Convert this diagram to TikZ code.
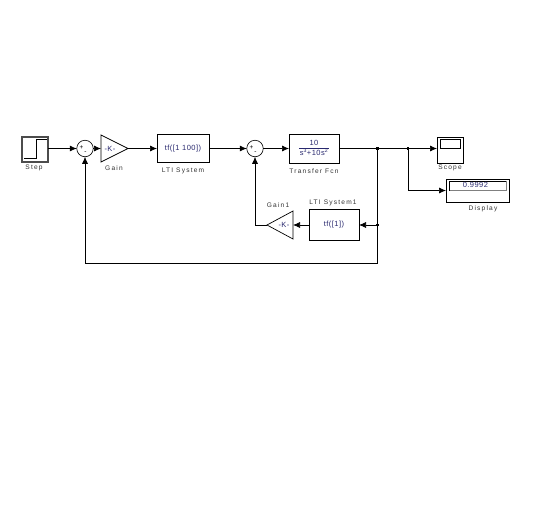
\documentclass[tikz,border=0pt]{standalone}
\usepackage{fontspec}
\setmainfont{Liberation Sans}
\newfontfamily\lblfont{Liberation Sans}[LetterSpace=18]
\newfontfamily\blkfont{Liberation Sans}[LetterSpace=6]
\usetikzlibrary{arrows.meta}
\definecolor{blocktext}{RGB}{40,40,110}
\definecolor{labeltext}{RGB}{50,50,50}
\begin{document}
\begin{tikzpicture}[x=1pt,y=-1pt,
  blockbox/.style={draw=black, line width=0.7pt, inner sep=0pt, outer sep=0pt,
    font=\blkfont\fontsize{7.5}{8.5}\selectfont, text=blocktext},
  sumc/.style={draw=black, line width=0.6pt, circle, minimum size=16.5pt, inner sep=0pt, outer sep=0pt},
  ghost/.style={inner sep=0pt, outer sep=0pt},
  lbl/.style={font=\lblfont\fontsize{6.6}{7.5}\selectfont, text=labeltext, inner sep=0pt},
  sgn/.style={font=\fontsize{6.5}{7}\selectfont, inner sep=0pt},
  wire/.style={line width=0.7pt},
  sig/.style={line width=0.7pt, -{Latex[length=7pt,width=6pt]}},
  jdot/.style={fill=black, minimum size=2.2pt, inner sep=0pt}
]
\useasboundingbox (0,0) rectangle (560,528);

% Step
\node[draw=gray!60!black, line width=1.1pt, minimum width=26pt, minimum height=25pt, inner sep=0pt, outer sep=0pt] (step) at (35,149.5) {};
\draw[line width=0.7pt] (24,158) -- (36,158) -- (36,139) -- (47,139);
\node[lbl] (steplbl) at (34,168) {Step};

% Sum 1
\node[sumc] (sum1) at (85,148.5) {};
\node[sgn] (s1p) at (81.5,147.5) {+};
\node[sgn] (s1m) at (85.5,153) {-};

% Gain
\node[ghost, minimum width=27pt, minimum height=27pt] (gain) at (114.5,148.5) {};
\draw[line width=0.7pt] (gain.north west) -- (gain.east) -- (gain.south west) -- cycle;
\node[ghost, font=\blkfont\fontsize{7.5}{8.5}\selectfont, text=blocktext] (gaink) at (110,148.5) {-K-};
\node[lbl] (gainlbl) at (114,168) {Gain};

% LTI System
\node[blockbox, minimum width=52pt, minimum height=28pt] (lti) at (183,148.5) {tf([1 100])};
\node[lbl] (ltilbl) at (183,171) {LTI System};

% Sum 2
\node[sumc] (sum2) at (255,148.5) {};
\node[sgn] (s2p) at (251.5,147.5) {+};
\node[sgn] (s2m) at (255.5,153) {-};

% Transfer Fcn
\node[blockbox, minimum width=50pt, minimum height=29pt] (tf) at (314,148.5)
  {\setlength{\tabcolsep}{1pt}\renewcommand{\arraystretch}{1.15}\begin{tabular}{c}10\\\hline s\textsuperscript{3}+10s\textsuperscript{2}\end{tabular}};
\node[lbl] (tflbl) at (314,171) {Transfer Fcn};

% Scope
\node[draw=black, line width=0.8pt, minimum width=26pt, minimum height=26pt, inner sep=0pt, outer sep=0pt] (scope) at (450,150) {};
\draw[line width=0.7pt, fill=white] (440.5,139.5) rectangle (460.5,148.5);
\node[lbl] (scopelbl) at (450,168) {Scope};

% Display
\node[draw=black, line width=0.8pt, minimum width=63pt, minimum height=23pt, inner sep=0pt, outer sep=0pt] (disp) at (477.5,190.5) {};
\draw[line width=0.5pt, gray] (449,190.5) -- (506,190.5) -- (506,181);
\draw[line width=0.8pt, black] (449,190.5) -- (449,181) -- (506,181);
\node[ghost, anchor=east, font=\blkfont\fontsize{7.5}{8.5}\selectfont, text=blocktext] (dispval) at (488,185) {0.9992};
\node[lbl] (displbl) at (483,209) {Display};

% LTI System1
\node[blockbox, minimum width=50pt, minimum height=31pt] (lti1) at (334,225) {tf([1])};
\node[lbl] (lti1lbl) at (333,203) {LTI System1};

% Gain1
\node[ghost, minimum width=26pt, minimum height=28pt] (gain1) at (280,225) {};
\draw[line width=0.7pt] (gain1.north east) -- (gain1.west) -- (gain1.south east) -- cycle;
\node[ghost, font=\blkfont\fontsize{7.5}{8.5}\selectfont, text=blocktext] (gain1k) at (284,225) {-K-};
\node[lbl] (gain1lbl) at (278,205) {Gain1};

% Junctions
\coordinate (j1) at (377.5,148.5);
\coordinate (j2) at (408,148.5);
\coordinate (j3) at (377.5,225);
\coordinate (jb) at (377.5,263);
\node[jdot] (d1) at (j1) {};
\node[jdot] (d2) at (j2) {};
\node[jdot] (d3) at (j3) {};

% Connectors
\draw[sig] (step.east |- sum1.west) -- (sum1.west);
\draw[sig] (sum1.east) -- (gain.west);
\draw[sig] (gain.east) -- (lti.west);
\draw[sig] (lti.east) -- (sum2.west);
\draw[sig] (sum2.east) -- (tf.west);
\draw[wire] (tf.east) -- (j1) -- (j2);
\draw[sig] (j2) -- (scope.west |- j2);
\draw[sig] (j2) |- (disp.west);
\draw[wire] (j1) -- (jb);
\draw[sig] (j3) -- (lti1.east);
\draw[sig] (lti1.west) -- (gain1.east);
\draw[sig] (gain1.west) -| (sum2.south);
\draw[sig] (jb) -| (sum1.south);
\end{tikzpicture}
\end{document}
